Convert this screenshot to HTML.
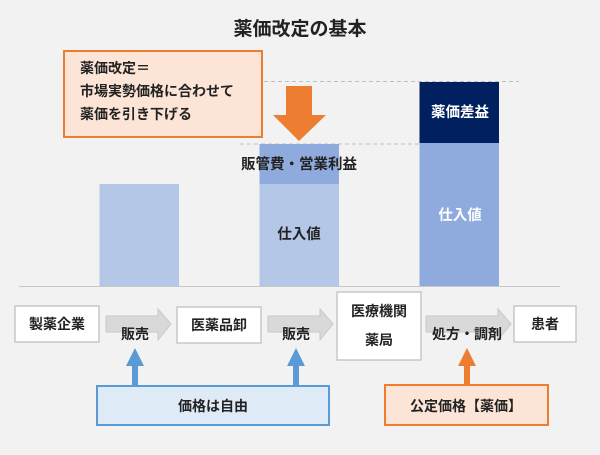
<!DOCTYPE html>
<html><head><meta charset="utf-8"><style>
body{margin:0;width:600px;height:450px;background:#f2f2f2;overflow:hidden;font-family:"Liberation Sans","Noto Sans CJK JP",sans-serif;font-weight:bold;color:#222}
</style></head><body>
<svg width="600" height="450" xmlns="http://www.w3.org/2000/svg" font-family="Liberation Sans, Noto Sans CJK JP, sans-serif" font-weight="bold">
<text x="300" y="35" font-size="19" text-anchor="middle" fill="#222">薬価改定の基本</text>
<rect x="64" y="51" width="198" height="86" fill="#fce4d6" stroke="#ed7d31" stroke-width="2"/>
<g font-size="14" fill="#222"><text x="80" y="73">薬価改定＝</text><text x="80" y="96">市場実勢価格に合わせて</text><text x="80" y="119">薬価を引き下げる</text></g>
<line x1="264" y1="81.5" x2="519" y2="81.5" stroke="#bfbfbf" stroke-dasharray="4,3"/>
<line x1="240" y1="144" x2="420" y2="144" stroke="#bfbfbf" stroke-dasharray="4,3"/>
<polygon points="286,86 312,86 312,115 326,115 299,141 273,115 286,115" fill="#ed7d31"/>
<rect x="99.5" y="184" width="79.5" height="102" fill="#b4c7e7"/>
<rect x="259.5" y="144" width="79.5" height="40" fill="#8faadc"/>
<rect x="259.5" y="184" width="79.5" height="102" fill="#b4c7e7"/>
<rect x="419.5" y="82" width="79.5" height="61" fill="#002060"/>
<rect x="419.5" y="143" width="79.5" height="143" fill="#8faadc"/>
<line x1="19" y1="286.5" x2="560" y2="286.5" stroke="#c8c8c8"/>
<g font-size="14.5" text-anchor="middle">
<text x="299" y="169" fill="#222">販管費・営業利益</text>
<text x="299" y="239" fill="#222">仕入値</text>
<text x="460" y="117" fill="#fff">薬価差益</text>
<text x="460" y="220" fill="#fff">仕入値</text>
</g>
<g fill="#fff" stroke="#c8c8c8" stroke-width="1.5">
<rect x="15" y="306" width="84" height="36"/><rect x="177" y="307" width="84" height="36"/>
<rect x="337" y="292" width="84" height="68"/><rect x="514" y="306" width="62" height="36"/>
</g>
<g fill="#d9d9d9" stroke="#c8c8c8">
<polygon points="106,316 158,316 158,309 171,324 158,340 158,332 106,332"/>
<polygon points="268,316 320,316 320,309 333,324 320,340 320,332 268,332"/>
<polygon points="426,316 498,316 498,309 511,324 498,340 498,332 426,332"/>
</g>
<g font-size="14" text-anchor="middle" fill="#222">
<text x="57" y="329">製薬企業</text><text x="219" y="330">医薬品卸</text>
<text x="379" y="316">医療機関</text><text x="379" y="345">薬局</text><text x="545" y="329">患者</text>
<text x="135" y="339">販売</text><text x="296" y="339">販売</text><text x="467" y="339">処方・調剤</text>
</g>
<polygon points="132,386 138,386 138,366 144,366 135,348 126,366 132,366" fill="#5b9bd5"/>
<polygon points="293,386 299,386 299,366 305,366 296,348 287,366 293,366" fill="#5b9bd5"/>
<polygon points="464,385 470,385 470,366 476,366 467,348 458,366 464,366" fill="#ed7d31"/>
<rect x="97" y="386" width="232" height="39" fill="#deebf7" stroke="#5b9bd5" stroke-width="2"/>
<rect x="385" y="385" width="163" height="40" fill="#fce4d6" stroke="#ed7d31" stroke-width="2"/>
<g font-size="14" text-anchor="middle" fill="#222">
<text x="213" y="411">価格は自由</text><text x="466" y="411">公定価格【薬価】</text>
</g>
</svg>
</body></html>
